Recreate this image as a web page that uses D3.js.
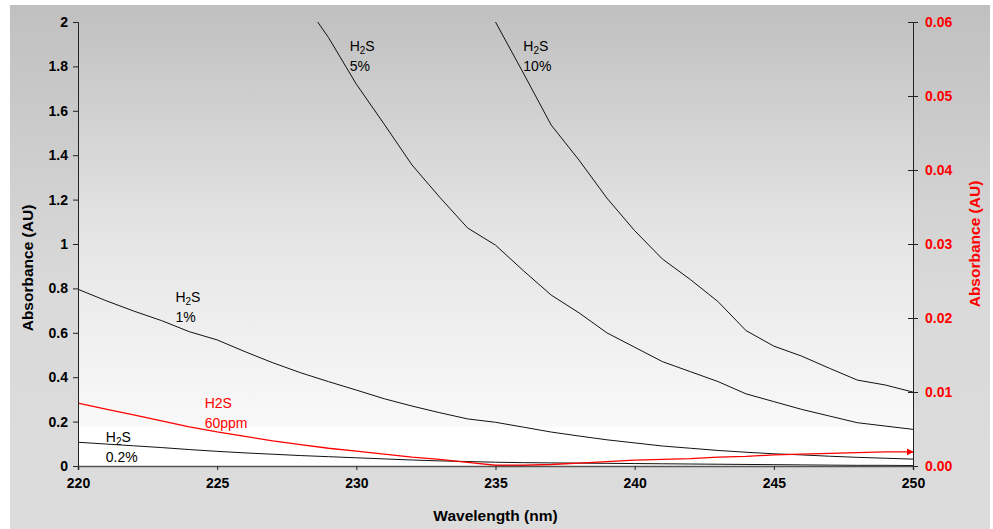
<!DOCTYPE html>
<html>
<head>
<meta charset="utf-8">
<script src="https://cdn.jsdelivr.net/npm/d3@7"></script>
<style>
  html, body { margin: 0; padding: 0; background: #fff; }
  svg { display: block; font-family: "Liberation Sans", Arial, sans-serif; }
</style>
</head>
<body>
<div id="app"></div>
<script>
// values, absorbance per nm
const wavelengths = d3.range(220, 251);
const h2s02 = [0.107, 0.099, 0.091, 0.083, 0.074, 0.066, 0.059, 0.053, 0.047, 0.042, 0.037,
               0.032, 0.027, 0.023, 0.020, 0.017, 0.015, 0.014, 0.013, 0.012, 0.011,
               0.010, 0.009, 0.008, 0.007, 0.006, 0.005, 0.004, 0.003, 0.003, 0.002];
const h2s1 = [0.796, 0.745, 0.698, 0.655, 0.605, 0.568, 0.515, 0.465, 0.420, 0.380, 0.342,
              0.303, 0.270, 0.240, 0.212, 0.197, 0.175, 0.153, 0.135, 0.118, 0.104,
              0.090, 0.080, 0.070, 0.062, 0.055, 0.050, 0.044, 0.039, 0.035, 0.031];
const h2s5 = [null, null, null, null, null, null, null, null, 2.11, 1.93, 1.72,
              1.54, 1.356, 1.21, 1.072, 0.995, 0.88, 0.77, 0.69, 0.60, 0.535,
              0.47, 0.425, 0.38, 0.325, 0.29, 0.255, 0.225, 0.195, 0.18, 0.165];
const h2s10 = [null, null, null, null, null, null, null, null, null, null, null,
               null, null, null, 2.25, 2.0, 1.77, 1.536, 1.378, 1.207, 1.06,
               0.932, 0.84, 0.74, 0.61, 0.54, 0.495, 0.44, 0.387, 0.365, 0.333];
// right axis series
const h2s60ppm = [0.0085, 0.0077, 0.0069, 0.0061, 0.0053, 0.0046, 0.0040, 0.0034, 0.0029, 0.0024, 0.0020,
                  0.0016, 0.0012, 0.0009, 0.0005, 0.0001, 0.0001, 0.0002, 0.0004, 0.0006, 0.0008,
                  0.0009, 0.0010, 0.0012, 0.0013, 0.0015, 0.0016, 0.0017, 0.0018, 0.0019, 0.0019];

const xTicks = [220, 225, 230, 235, 240, 245, 250];
const yTicks = [0, 0.2, 0.4, 0.6, 0.8, 1, 1.2, 1.4, 1.6, 1.8, 2];
const y2Ticks = [0, 0.01, 0.02, 0.03, 0.04, 0.05, 0.06];

const W = 993, H = 529;
const m = {left: 78, right: 80, top: 22, bottom: 63};

const svg = d3.select('#app').append('svg').attr('width', W).attr('height', H);
const defs = svg.append('defs');

const outerGrad = defs.append('linearGradient').attr('id', 'outerGrad')
  .attr('x1', 0).attr('y1', 0).attr('x2', 0).attr('y2', 1);
outerGrad.append('stop').attr('offset', '0%').attr('stop-color', '#c0c0c0');
outerGrad.append('stop').attr('offset', '55%').attr('stop-color', '#dadada');
outerGrad.append('stop').attr('offset', '100%').attr('stop-color', '#dcdcdc');

const plotGrad = defs.append('linearGradient').attr('id', 'plotGrad')
  .attr('x1', 0).attr('y1', 0).attr('x2', 0).attr('y2', 1);
plotGrad.append('stop').attr('offset', '0%').attr('stop-color', '#c2c2c2');
plotGrad.append('stop').attr('offset', '50%').attr('stop-color', '#e6e6e6');
plotGrad.append('stop').attr('offset', '91%').attr('stop-color', '#f9f9f9');
plotGrad.append('stop').attr('offset', '91.5%').attr('stop-color', '#ffffff');
plotGrad.append('stop').attr('offset', '100%').attr('stop-color', '#ffffff');

defs.append('clipPath').attr('id', 'clip').append('rect')
  .attr('x', m.left).attr('y', m.top)
  .attr('width', W - m.left - m.right).attr('height', H - m.top - m.bottom);

defs.append('marker').attr('id', 'arrow')
  .attr('viewBox', '0 0 10 10').attr('refX', 9).attr('refY', 5)
  .attr('markerWidth', 7).attr('markerHeight', 7).attr('markerUnits', 'userSpaceOnUse')
  .attr('orient', 'auto')
  .append('path').attr('d', 'M0,0L10,5L0,10Z').attr('fill', '#ff0000');

const x = d3.scaleLinear().domain([220, 250]).range([m.left, W - m.right]);
const y = d3.scaleLinear().domain([0, 2]).range([H - m.bottom, m.top]);
const y2 = d3.scaleLinear().domain([0, 0.06]).range([H - m.bottom, m.top]);

svg.append('rect').attr('x', 10).attr('y', 5).attr('width', 980).attr('height', H - 5)
  .attr('fill', 'url(#outerGrad)');
svg.append('rect').attr('x', m.left).attr('y', m.top)
  .attr('width', W - m.left - m.right).attr('height', H - m.top - m.bottom)
  .attr('fill', 'url(#plotGrad)');

const plot = svg.append('g').attr('clip-path', 'url(#clip)');

function drawSeries(vals, scale, color, width) {
  const pts = wavelengths.map((w, i) => [w, vals[i]]).filter(d => d[1] != null);
  return plot.append('path').datum(pts)
    .attr('fill', 'none').attr('stroke', color).attr('stroke-width', width)
    .attr('d', d3.line().x(d => x(d[0])).y(d => scale(d[1])));
}

drawSeries(h2s02, y, '#111', 1);
drawSeries(h2s1, y, '#111', 1);
drawSeries(h2s5, y, '#111', 1);
drawSeries(h2s10, y, '#111', 1);
drawSeries(h2s60ppm, y2, '#ff0000', 1.3).attr('marker-end', 'url(#arrow)');

// axes
const gy = svg.append('g').attr('transform', `translate(${m.left},0)`)
  .call(d3.axisLeft(y).tickValues(yTicks).tickSize(5).tickPadding(5).tickFormat(d3.format('~g')));
const gy2 = svg.append('g').attr('transform', `translate(${W - m.right},0)`)
  .call(d3.axisRight(y2).tickValues(y2Ticks).tickSize(5).tickPadding(7).tickFormat(d3.format('.2f')));
gy2.selectAll('.tick line').attr('x1', -5);
const gx = svg.append('g').attr('transform', `translate(0,${H - m.bottom})`)
  .call(d3.axisBottom(x).tickValues(xTicks).tickSize(4).tickPadding(8).tickFormat(d3.format('d')));

[gy, gy2, gx].forEach(g => {
  g.select('.domain').attr('stroke', '#222');
  g.selectAll('.tick line').attr('stroke', '#222');
  g.selectAll('text').attr('font-size', '14px').attr('font-weight', 'bold')
    .attr('font-family', '"Liberation Sans", Arial, sans-serif').attr('fill', '#000');
});
gx.select('.domain').attr('stroke', '#555').attr('stroke-width', 1.6);
gy2.selectAll('text').attr('fill', '#ff0000');

svg.append('text').attr('transform', 'translate(33,268) rotate(-90)')
  .attr('text-anchor', 'middle').attr('font-size', '15.5px').attr('font-weight', 'bold')
  .text('Absorbance (AU)');
svg.append('text').attr('transform', 'translate(980,244) rotate(-90)')
  .attr('text-anchor', 'middle').attr('font-size', '15.5px').attr('font-weight', 'bold')
  .attr('fill', '#ff0000').text('Absorbance (AU)');
svg.append('text').attr('x', (m.left + W - m.right) / 2).attr('y', 521)
  .attr('text-anchor', 'middle').attr('font-size', '15.5px').attr('font-weight', 'bold')
  .text('Wavelength (nm)');

// series labels: [wavelength, value, second line, colour, subscript?]
const labels = [
  [229.76, 1.87, '5%', '#000', true],
  [236.0, 1.87, '10%', '#000', true],
  [223.5, 0.74, '1%', '#000', true],
  [221.0, 0.107, '0.2%', '#000', true],
  [224.55, 0.26, '60ppm', '#ff0000', false]
];
labels.forEach(([w, v, line2, color, sub]) => {
  const t = svg.append('text').attr('x', x(w)).attr('y', y(v))
    .attr('font-size', '14px').attr('fill', color);
  if (sub) {
    t.append('tspan').text('H');
    t.append('tspan').attr('font-size', '10px').attr('dy', 3).text('2');
    t.append('tspan').attr('dy', -3).text('S');
  } else {
    t.append('tspan').text('H2S');
  }
  svg.append('text').attr('x', x(w)).attr('y', y(v) + 20)
    .attr('font-size', '14px').attr('fill', color).text(line2);
});
</script>
</body>
</html>
